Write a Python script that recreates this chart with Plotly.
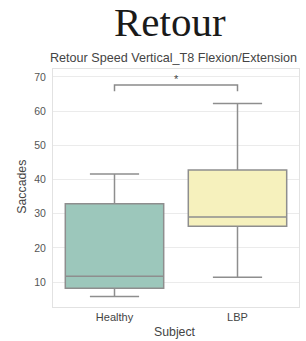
import plotly.graph_objects as go

categories = ["Healthy", "LBP"]
lower_fence = [5.8, 11.4]
q1_vals = [8.2, 26.3]
median_vals = [11.7, 29.0]
q3_vals = [32.9, 42.8]
upper_fence = [41.6, 62.2]
fill_colors = ["#9cc7bb", "#f6f1bd"]
y_ticks = [10, 20, 30, 40, 50, 60, 70]
bracket_low, bracket_high = 65.8, 67.6
sig_label = "*"

W, H = 306, 341
L, R, T, B = 53, 7, 69, 34
pw, ph = W - L - R, H - T - B

def px_x(p):
    return (p - L) / pw

def px_y(p):
    return (H - B - p) / ph

fig = go.Figure()
for i, cat in enumerate(categories):
    fig.add_trace(go.Box(
        x=[cat], q1=[q1_vals[i]], median=[median_vals[i]], q3=[q3_vals[i]],
        lowerfence=[lower_fence[i]], upperfence=[upper_fence[i]],
        fillcolor=fill_colors[i], line=dict(color="#8e8e8e", width=1.5),
        width=0.8, whiskerwidth=0.5, boxpoints=False, showlegend=False,
        hoverinfo="skip",
    ))

fig.add_trace(go.Scatter(
    x=[categories[0], categories[0], categories[1], categories[1]],
    y=[bracket_low, bracket_high, bracket_high, bracket_low],
    mode="lines", line=dict(color="#8a8a8a", width=1.5),
    showlegend=False, hoverinfo="skip",
))

fig.add_annotation(x=0.5, y=bracket_high, xref="x", yref="y", text=sig_label,
                   showarrow=False, yanchor="bottom", yshift=-2,
                   font=dict(family="Liberation Sans", size=11, color="#444"))

fig.add_annotation(x=px_x(170), y=px_y(22), xref="paper", yref="paper",
                   text="Retour", showarrow=False, xanchor="center", yanchor="middle",
                   font=dict(family="Liberation Serif", size=41, color="#1a1a1a"))
fig.add_annotation(x=px_x(173.5), y=px_y(58), xref="paper", yref="paper",
                   text="Retour Speed Vertical_T8 Flexion/Extension", showarrow=False,
                   xanchor="center", yanchor="middle",
                   font=dict(family="Liberation Sans", size=12.6, color="#444"))
fig.add_annotation(x=px_x(175), y=px_y(331.5), xref="paper", yref="paper",
                   text="Subject", showarrow=False, xanchor="center", yanchor="middle",
                   font=dict(family="Liberation Sans", size=12.3, color="#444"))
fig.add_annotation(x=px_x(21.7), y=px_y(187), xref="paper", yref="paper",
                   text="Saccades", showarrow=False, xanchor="center", yanchor="middle",
                   textangle=-90,
                   font=dict(family="Liberation Sans", size=12.3, color="#444"))

fig.update_layout(
    width=W, height=H, margin=dict(l=L, r=R, t=T, b=B, autoexpand=False),
    paper_bgcolor="white", plot_bgcolor="white",
    font=dict(family="Liberation Sans", color="#444"),
    hovermode=False,
)
fig.update_xaxes(
    type="category", categoryorder="array", categoryarray=categories,
    range=[-0.5, 1.5], showgrid=False, showline=True, mirror=True,
    linecolor="#e2e2e2", linewidth=1, automargin=False,
    tickfont=dict(size=11, color="#444"),
)
fig.update_yaxes(
    range=[2.7, 72.3], tickvals=y_ticks, showgrid=True, gridcolor="#ebebeb",
    zeroline=False, showline=True, mirror=True, linecolor="#e2e2e2", linewidth=1,
    automargin=False,
    tickfont=dict(size=10.5, color="#555"), ticklabelstandoff=4,
)

fig.write_html("out.html", config={"displayModeBar": False, "staticPlot": True},
               post_script="document.body.style.margin='0';document.body.style.overflow='hidden';")
